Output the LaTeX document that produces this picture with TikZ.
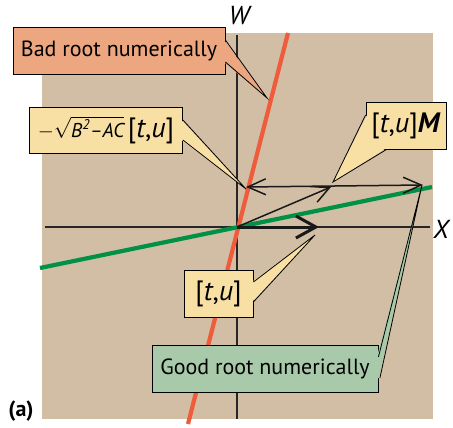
\documentclass[tikz,border=0pt]{standalone}
\usepackage{fontspec}
\setmainfont{PT Sans}
\usepackage{amsmath}
\usetikzlibrary{arrows.meta, calc}
\definecolor{planebg}{RGB}{210,190,165}
\definecolor{badline}{RGB}{238,92,60}
\definecolor{goodline}{RGB}{0,145,70}
\definecolor{badfill}{RGB}{236,166,128}
\definecolor{notefill}{RGB}{248,224,165}
\definecolor{goodfill}{RGB}{168,202,170}

\begin{document}
\begin{tikzpicture}[x=1pt,y=-1pt,
    note/.style={draw,line width=0.8pt,inner sep=0pt,minimum height=47pt,
                 font=\fontsize{22}{26}\selectfont},
    axis/.style={line width=1.2pt,black!85},
    root/.style={line width=4.2pt},
    vec/.style={line width=1.5pt,black!90,-{Straight Barb[length=17pt,width=17pt]}},
    wedge/.style={line width=0.8pt}
]
  \useasboundingbox (0,0) rectangle (453,428);
  % Plane
  \fill[planebg] (42,33) rectangle (433,419);
  \draw[axis] (237,35) -- (237,419);
  \draw[axis] (45,227) -- (430,227);
  \node[font=\fontsize{26}{28}\selectfont\itshape] (wlab) at (239,16) {W};
  \node[font=\fontsize{26}{28}\selectfont\itshape] (xlab) at (441,229) {X};

  % Roots
  \draw[root,badline] (288,33) -- (188,424);
  \draw[root,goodline] (40,268) -- (432,187);

  % Vectors
  \coordinate (O) at (237,227);
  \coordinate (tu) at (319,227);
  \coordinate (tuM) at (331,187);
  \coordinate (onbad) at (246,187);
  \coordinate (ongood) at (423,185);
  \draw[vec,line width=3pt,-{Straight Barb[length=20pt,width=22pt]}] (O) -- (tu);
  \draw[vec] (O) -- (tuM);
  \draw[vec,{Straight Barb[length=18pt,width=16pt]}-{Straight Barb[length=18pt,width=16pt]}] (onbad) -- (ongood);

  % Callouts
  \node[note,fill=badfill,minimum width=212pt] (bad) at (119,50.5) {Bad root numerically};
  \node[note,fill=notefill,minimum width=153pt,minimum height=46pt] (scaled) at (106,130)
    {{\fontsize{20}{22}\selectfont$-\sqrt{\text{\itshape B\textsuperscript{2}–AC}}$}\,%
     {\fontsize{28}{30}\selectfont[\textit{t},\textit{u}]}};
  \node[note,fill=notefill,minimum width=80pt,font=\fontsize{28}{30}\selectfont] (mapped) at (406,125.5)
    {[\textit{t},\textit{u}]\textbf{\textit{M}}};
  \node[note,fill=notefill,minimum width=69pt,font=\fontsize{28}{30}\selectfont] (start) at (218.5,293.5)
    {[\textit{t},\textit{u}]};
  \node[note,fill=goodfill,minimum width=226pt] (good) at (265,368.5) {Good root numerically};

  % Pointers
  \fill[badfill] ($(bad.east)+(-1.5,-10.5)$) -- (267,98) -- ($(bad.east)+(-1.5,11.5)$) -- cycle;
  \draw[wedge] ($(bad.east)+(0,-10.5)$) -- (267,98) -- ($(bad.east)+(0,11.5)$);
  \fill[notefill] ($(scaled.east)+(-1.5,-10)$) -- (246,189) -- ($(scaled.east)+(-1.5,10)$) -- cycle;
  \draw[wedge] ($(scaled.east)+(0,-10)$) -- (246,189) -- ($(scaled.east)+(0,10)$);
  \fill[notefill] ($(mapped.west)+(1.5,-10.5)$) -- (333,182) -- ($(mapped.south west)+(21,-1.5)$)
    -- ($(mapped.south west)+(1.5,-1.5)$) -- cycle;
  \draw[wedge] ($(mapped.west)+(0,-10.5)$) -- (333,182) -- ($(mapped.south west)+(21,0)$);
  \fill[notefill] ($(start.east)+(-1.5,-11.5)$) -- (315,235) -- ($(start.east)+(-1.5,8.5)$) -- cycle;
  \draw[wedge] ($(start.east)+(0,-11.5)$) -- (315,235) -- ($(start.east)+(0,8.5)$);
  \fill[goodfill] ($(good.east)+(-1.5,-11.5)$) -- (422,185) -- ($(good.east)+(0.5,9.5)$)
    -- ($(good.east)+(-1.5,9.5)$) -- cycle;
  \draw[wedge] ($(good.east)+(0,-11.5)$) -- (422,185) -- ($(good.east)+(1.5,9.5)$);

  \node[font=\fontsize{22}{24}\selectfont\bfseries] (panel) at (21,411) {(a)};
\end{tikzpicture}
\end{document}
